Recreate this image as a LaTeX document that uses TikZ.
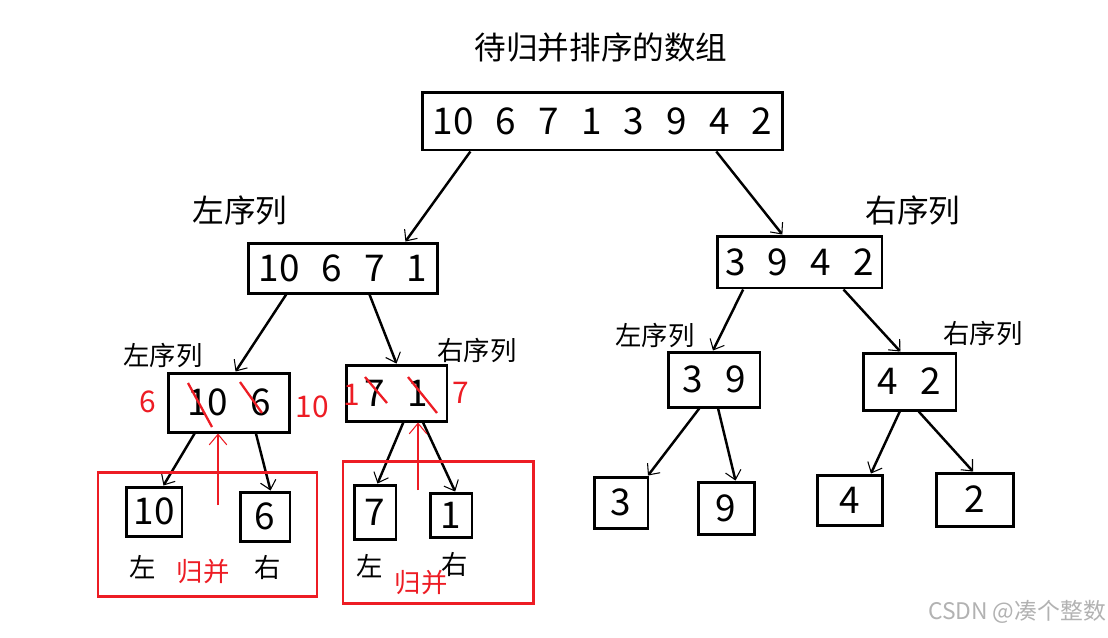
\documentclass[tikz,border=0pt]{standalone}
\usepackage{fontspec}
\setmainfont{Noto Sans CJK SC}
\usetikzlibrary{arrows.meta}
\definecolor{mergered}{RGB}{237,28,36}
\newcommand\numgap{\hspace{0.6em}}
\tikzset{
  numbox/.style={draw, line width=1.7pt, inner sep=0pt, font=\fontsize{21}{25}\selectfont},
  biglbl/.style={font=\fontsize{18}{22}\selectfont},
  lbl/.style={font=\fontsize{15}{18}\selectfont},
  rednum/.style={text=mergered, font=\fontsize{17}{20}\selectfont},
  redlbl/.style={text=mergered, font=\fontsize{15}{18}\selectfont},
  arr/.style={line width=1.4pt, -{Straight Barb[length=5pt,width=9pt,line width=0.6pt]}},
  redarr/.style={color=mergered, line width=1.4pt, -{Straight Barb[length=6pt,width=10pt,line width=0.6pt]}},
  redline/.style={draw=mergered, line width=1.3pt},
  mergebox/.style={draw=mergered, line width=1.7pt},
}
\begin{document}
\begin{tikzpicture}[x=0.02cm, y=-0.02cm]
\useasboundingbox[fill=white] (0,0) rectangle (1108,637);
% title
\node[biglbl] (title) at (601,48) {待归并排序的数组};
% boxes
\node[numbox, minimum width=7.22cm, minimum height=1.16cm] (top) at (602.5,121) {10\numgap 6\numgap 7\numgap 1\numgap 3\numgap 9\numgap 4\numgap 2};
\node[numbox, minimum width=3.8cm, minimum height=1.0cm] (L) at (343,268) {10\numgap 6\numgap 7\numgap 1};
\node[numbox, minimum width=3.3cm, minimum height=1.04cm] (R) at (799.5,262) {3\numgap 9\numgap 4\numgap 2};
\node[numbox, minimum width=2.44cm, minimum height=1.18cm] (LL) at (229,402.5) {10\numgap 6};
\node[numbox, minimum width=2.02cm, minimum height=1.12cm] (LR) at (396.5,393) {7\numgap 1};
\node[numbox, minimum width=1.84cm, minimum height=1.1cm] (RL) at (714,379.5) {3\numgap 9};
\node[numbox, minimum width=1.86cm, minimum height=1.14cm] (RR) at (909.5,381.5) {4\numgap 2};
\node[numbox, minimum width=1.12cm, minimum height=0.98cm] (a) at (154,511.5) {10};
\node[numbox, minimum width=1.0cm, minimum height=0.98cm] (b) at (265,516.5) {6};
\node[numbox, minimum width=0.84cm, minimum height=1.08cm] (c) at (375,512) {7};
\node[numbox, minimum width=0.84cm, minimum height=0.88cm] (d) at (451,515) {1};
\node[numbox, minimum width=1.08cm, minimum height=1.02cm] (e) at (621,502.5) {3};
\node[numbox, minimum width=1.12cm, minimum height=1.04cm] (f) at (726,508) {9};
\node[numbox, minimum width=1.3cm, minimum height=1.0cm] (g) at (849.5,500) {4};
\node[numbox, minimum width=1.54cm, minimum height=1.06cm] (h) at (974.5,499.5) {2};
% labels
\node[biglbl] (lblL) at (240,210) {左序列};
\node[biglbl] (lblR) at (913,210) {右序列};
\node[lbl] (lblLL) at (163,355) {左序列};
\node[lbl] (lblLR) at (477,350) {右序列};
\node[lbl] (lblRL) at (655,335) {左序列};
\node[lbl] (lblRR) at (983,333) {右序列};
\node[lbl] (la) at (143,567) {左};
\node[lbl] (rb) at (268,567) {右};
\node[lbl] (lc) at (370,566) {左};
\node[lbl] (rd) at (455,564) {右};
\node[redlbl] (merge1) at (203,572) {归并};
\node[redlbl] (merge2) at (421,583) {归并};
\node[rednum] (n6) at (148,402) {6};
\node[rednum] (n10) at (312,407) {10};
\node[rednum] (n1) at (352,395) {1};
\node[rednum] (n7) at (461,393) {7};
\node[text=black!30, font=\fontsize{13}{16}\selectfont] (mark) at (1017,612) {CSDN @凑个整数};

% split arrows
\path [arr] (top.193) edge (L.23);
\path [arr] (top.345) edge (R.122);
\path [arr] (L.205) edge (LL.78);
\path [arr] (L.315) edge (LR.90);
\path [arr] (R.206) edge (RL.92);
\path [arr] (R.328) edge (RR.107);
\path [arr] (LL.222) edge (a.70);
\path [arr] (LL.311) edge (b.78);
\path [arr] (LR.283) edge (c.85);
\path [arr] (LR.312) edge (d.80);
\path [arr] (RL.243) edge (e.45);
\path [arr] (RL.278) edge (f.71);
\path [arr] (RR.252) edge (g.51);
\path [arr] (RR.287) edge (h.93);

% merge boxes
\draw[mergebox] (98,472) rectangle (317,596);
\draw[mergebox] (343,461) rectangle (533,603);
\coordinate (m1) at (218,505);
\coordinate (m2) at (418,490);
\path [redarr] (m1) edge (m1 |- LL.south);
\path [redarr] (m2) edge (m2 |- LR.south);
% struck out
\draw[redline] (188,383) -- (212,427);
\draw[redline] (240,382) -- (262,413);
\draw[redline] (365,377) -- (387,403);
\draw[redline] (408,377) -- (437,413);
\end{tikzpicture}
\end{document}
